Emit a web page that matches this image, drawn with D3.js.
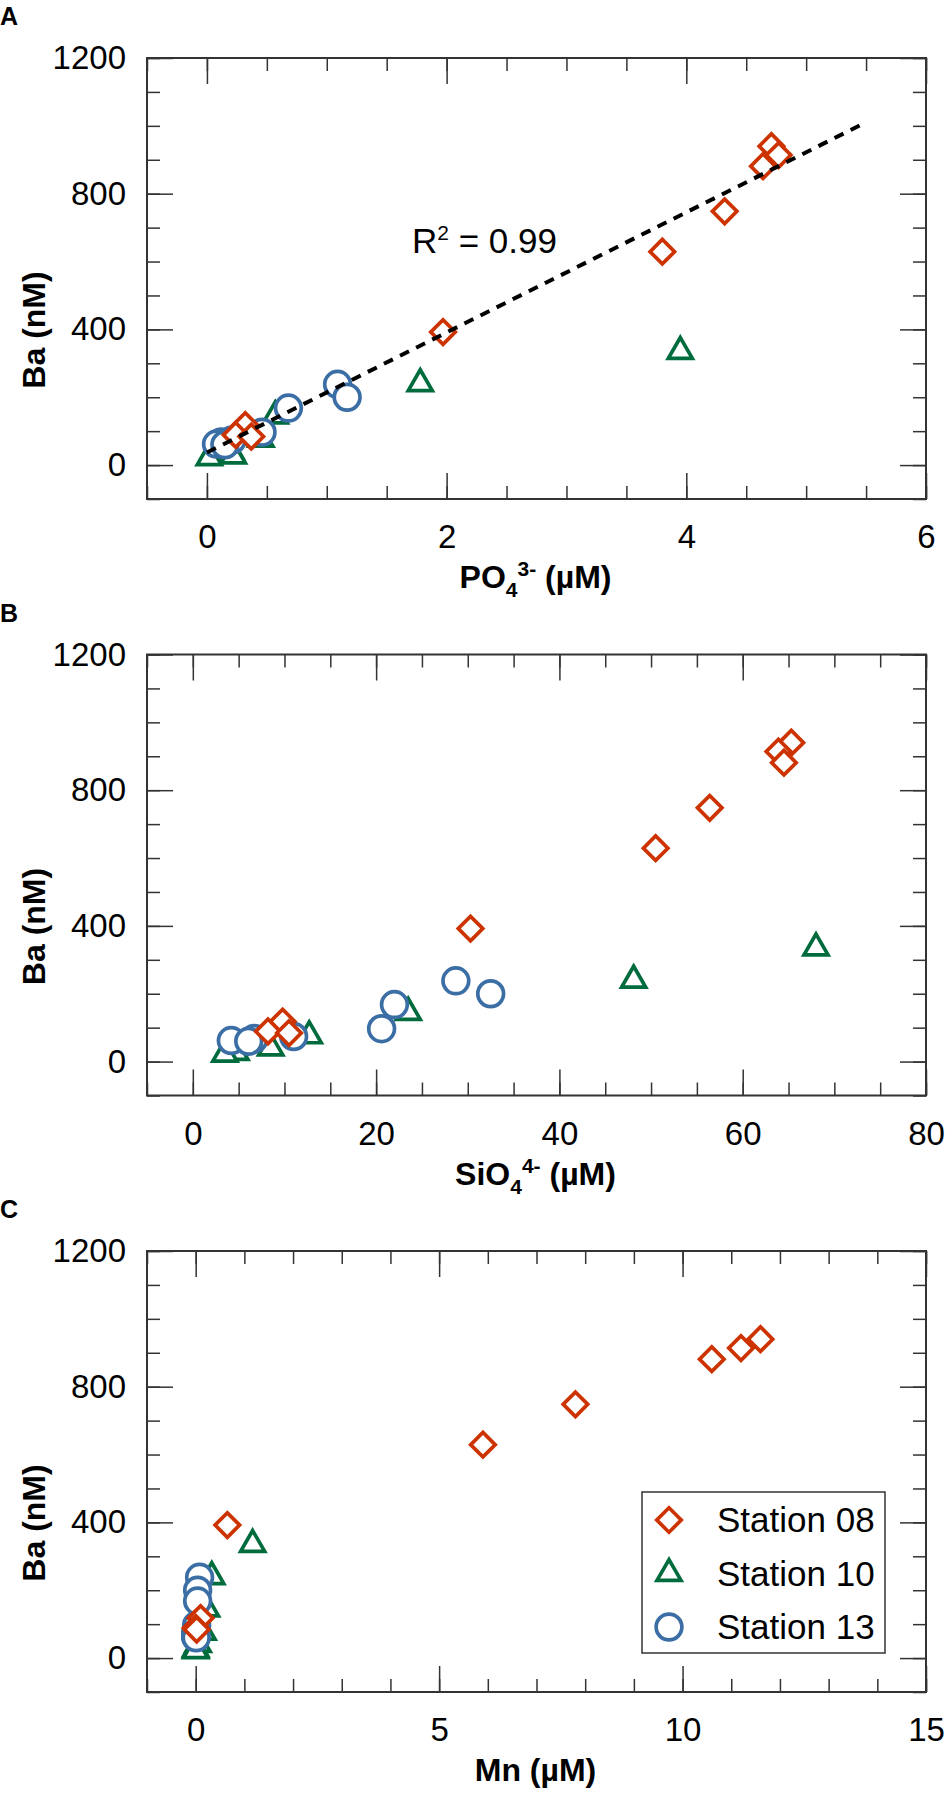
<!DOCTYPE html>
<html lang="en">
<head>
<meta charset="UTF-8">
<title>Ba vs nutrients and Mn</title>
<script src="https://d3js.org/d3.v7.min.js"></script>
<style>
  body { margin: 0; background: #fff; }
  svg { display: block; font-family: "Liberation Sans", Arial, sans-serif; }
  .tick line { stroke: #333; stroke-width: 1.5; }
  .tick text { font-size: 33px; fill: #000; }
  .frame { fill: none; stroke: #333; stroke-width: 2; }
  .title { font-size: 32px; font-weight: bold; }
  .panel-letter { font-size: 25px; font-weight: bold; }
</style>
</head>
<body>
<svg width="945" height="1796"></svg>
<script>
// Station names and colours
const stations = ["Station 08", "Station 10", "Station 13"];
const colors = ["#cc3300", "#006b3c", "#3a6ea5"];

// Ba (nM) per station
const ba08 = [940, 914, 881, 748, 629, 392, 118, 89, 84];
const ba10 = [335, 240, 145, 76, 40, 27, 22];
const ba13 = [238, 200, 168, 97, 74, 68, 62, 60];

// PO4 (uM)
const po4_08 = [4.71, 4.77, 4.64, 4.32, 3.80, 1.97, 0.32, 0.24, 0.37];
const po4_10 = [3.95, 1.78, 0.57, 0.45, 0.20, 0.22, 0.02];
const po4_13 = [1.09, 1.17, 0.68, 0.46, 0.21, 0.12, 0.08, 0.15];

// SiO4 (uM)
const sio4_08 = [65.3, 63.9, 64.5, 56.4, 50.5, 30.3, 9.8, 8.2, 10.5];
const sio4_10 = [68.0, 48.1, 23.5, 12.7, 8.5, 4.7, 3.5];
const sio4_13 = [28.7, 32.5, 22.0, 20.6, 11.0, 6.7, 4.2, 6.1];

// Mn (uM)
const mn08 = [11.6, 11.2, 10.6, 7.8, 5.9, 0.65, 0.10, 0.0, 0.02];
const mn10 = [1.17, 0.33, 0.22, 0.15, 0.05, 0.0, 0.0];
const mn13 = [0.08, 0.04, 0.04, 0.02, 0.0, 0.0, 0.0, 0.01];

// Axis ticks
const yDomain = [-100, 1200];
const yMajor = [0, 400, 800, 1200];
const yMinor = d3.range(-100, 1201, 100);

// Linear fit for panel A (Ba = a + b * PO4)
const fitIntercept = 37;
const fitSlope = 177;
const fitRange = [0, 5.5];
const fitLabel = "0.99";

const panels = [
  { letter: "A", xs: [po4_08, po4_10, po4_13], xDomain: [-0.5, 6],
    xMajor: [0, 2, 4, 6], xMinor: d3.range(-0.5, 6.01, 0.5),
    title: [["PO", 0], ["4", 9, 21], ["3-", -12, 21], [" (µM)", 0]] },
  { letter: "B", xs: [sio4_08, sio4_10, sio4_13], xDomain: [-5, 80],
    xMajor: [0, 20, 40, 60, 80], xMinor: d3.range(-5, 81, 5),
    title: [["SiO", 0], ["4", 9, 21], ["4-", -12, 21], [" (µM)", 0]] },
  { letter: "C", xs: [mn08, mn10, mn13], xDomain: [-1, 15],
    xMajor: [0, 5, 10, 15], xMinor: d3.range(-1, 16, 1),
    title: [["Mn (µM)", 0]] }
];
const baSets = [ba08, ba10, ba13];

const svg = d3.select("svg");
const left = 147, right = 926, plotH = 441;
const tops = [58, 654.5, 1251];

// marker shapes, one per station
const symbols = [
  d3.symbol().type(d3.symbolSquare).size(300),
  d3.symbol().type(d3.symbolTriangle).size(250),
  d3.symbol().type(d3.symbolCircle).size(520)
];
const rotations = [45, 0, 0];

function markerAt(g, i, cx, cy) {
  g.append("path")
    .attr("d", symbols[i]())
    .attr("transform", `translate(${cx},${cy}) rotate(${rotations[i]})`)
    .attr("fill", "#fff")
    .attr("stroke", colors[i])
    .attr("stroke-width", 3.7);
}

function addAxis(g, axis, tx, ty) {
  const a = g.append("g").attr("transform", `translate(${tx},${ty})`).call(axis);
  a.select(".domain").remove();
  return a;
}

panels.forEach((p, pi) => {
  const top = tops[pi];
  const bottom = top + plotH;
  const x = d3.scaleLinear().domain(p.xDomain).range([left, right]);
  const y = d3.scaleLinear().domain(yDomain).range([bottom, top]);
  const g = svg.append("g");

  // minor ticks, all four sides, pointing inward
  addAxis(g, d3.axisBottom(x).tickValues(p.xMinor).tickSize(-13).tickFormat(""), 0, bottom);
  addAxis(g, d3.axisTop(x).tickValues(p.xMinor).tickSize(-13).tickFormat(""), 0, top);
  addAxis(g, d3.axisLeft(y).tickValues(yMinor).tickSize(-13).tickFormat(""), left, 0);
  addAxis(g, d3.axisRight(y).tickValues(yMinor).tickSize(-13).tickFormat(""), right, 0);

  // major ticks with labels on bottom and left
  addAxis(g, d3.axisBottom(x).tickValues(p.xMajor).tickSize(-26).tickPadding(26).tickFormat(d3.format("d")), 0, bottom);
  addAxis(g, d3.axisTop(x).tickValues(p.xMajor).tickSize(-26).tickFormat(""), 0, top);
  addAxis(g, d3.axisLeft(y).tickValues(yMajor).tickSize(-26).tickPadding(21).tickFormat(d3.format("d")), left, 0);
  addAxis(g, d3.axisRight(y).tickValues(yMajor).tickSize(-26).tickFormat(""), right, 0);

  g.append("rect").attr("class", "frame")
    .attr("x", left).attr("y", top)
    .attr("width", right - left).attr("height", plotH);

  // markers: draw Station 10, then 13, then 08 on top
  const marks = g.append("g");
  [1, 2, 0].forEach(si => {
    p.xs[si].forEach((v, k) => markerAt(marks, si, x(v), y(baSets[si][k])));
  });

  if (pi === 0) {
    const line = d3.line().x(d => x(d)).y(d => y(fitIntercept + fitSlope * d));
    g.append("path")
      .attr("d", line(fitRange))
      .attr("fill", "none")
      .attr("stroke", "#000")
      .attr("stroke-width", 4)
      .attr("stroke-dasharray", "10,8");
    const t = g.append("text").attr("x", 412).attr("y", 253).attr("font-size", 35);
    t.append("tspan").text("R");
    t.append("tspan").attr("font-size", 21).attr("dy", -13).text("2");
    t.append("tspan").attr("dy", 13).text(" = " + fitLabel);
  }

  // x title with sub/superscripts
  const xt = g.append("text").attr("class", "title")
    .attr("x", (left + right) / 2 - 1).attr("y", bottom + 89)
    .attr("text-anchor", "middle");
  let shift = 0;
  p.title.forEach(([s, dy, fs]) => {
    const ts = xt.append("tspan").text(s).attr("dy", dy - shift);
    if (fs) ts.attr("font-size", fs);
    shift = dy;
  });

  // y title
  g.append("text").attr("class", "title")
    .attr("transform", `translate(45,${top + 272}) rotate(-90)`)
    .attr("text-anchor", "middle")
    .text("Ba (nM)");

  g.append("text").attr("class", "panel-letter")
    .attr("x", 0).attr("y", top - 33)
    .text(p.letter);

  if (pi === 2) {
    const lg = g.append("g").attr("transform", `translate(642,${top + 241})`);
    lg.append("rect").attr("width", 243).attr("height", 161)
      .attr("fill", "#fff").attr("stroke", "#333").attr("stroke-width", 1.5);
    stations.forEach((s, i) => {
      const cy = 28 + i * 53.5;
      markerAt(lg, i, 27, cy);
      lg.append("text").attr("x", 75).attr("y", cy).attr("dy", "0.35em")
        .attr("font-size", 35).text(s);
    });
  }
});
</script>
</body>
</html>
